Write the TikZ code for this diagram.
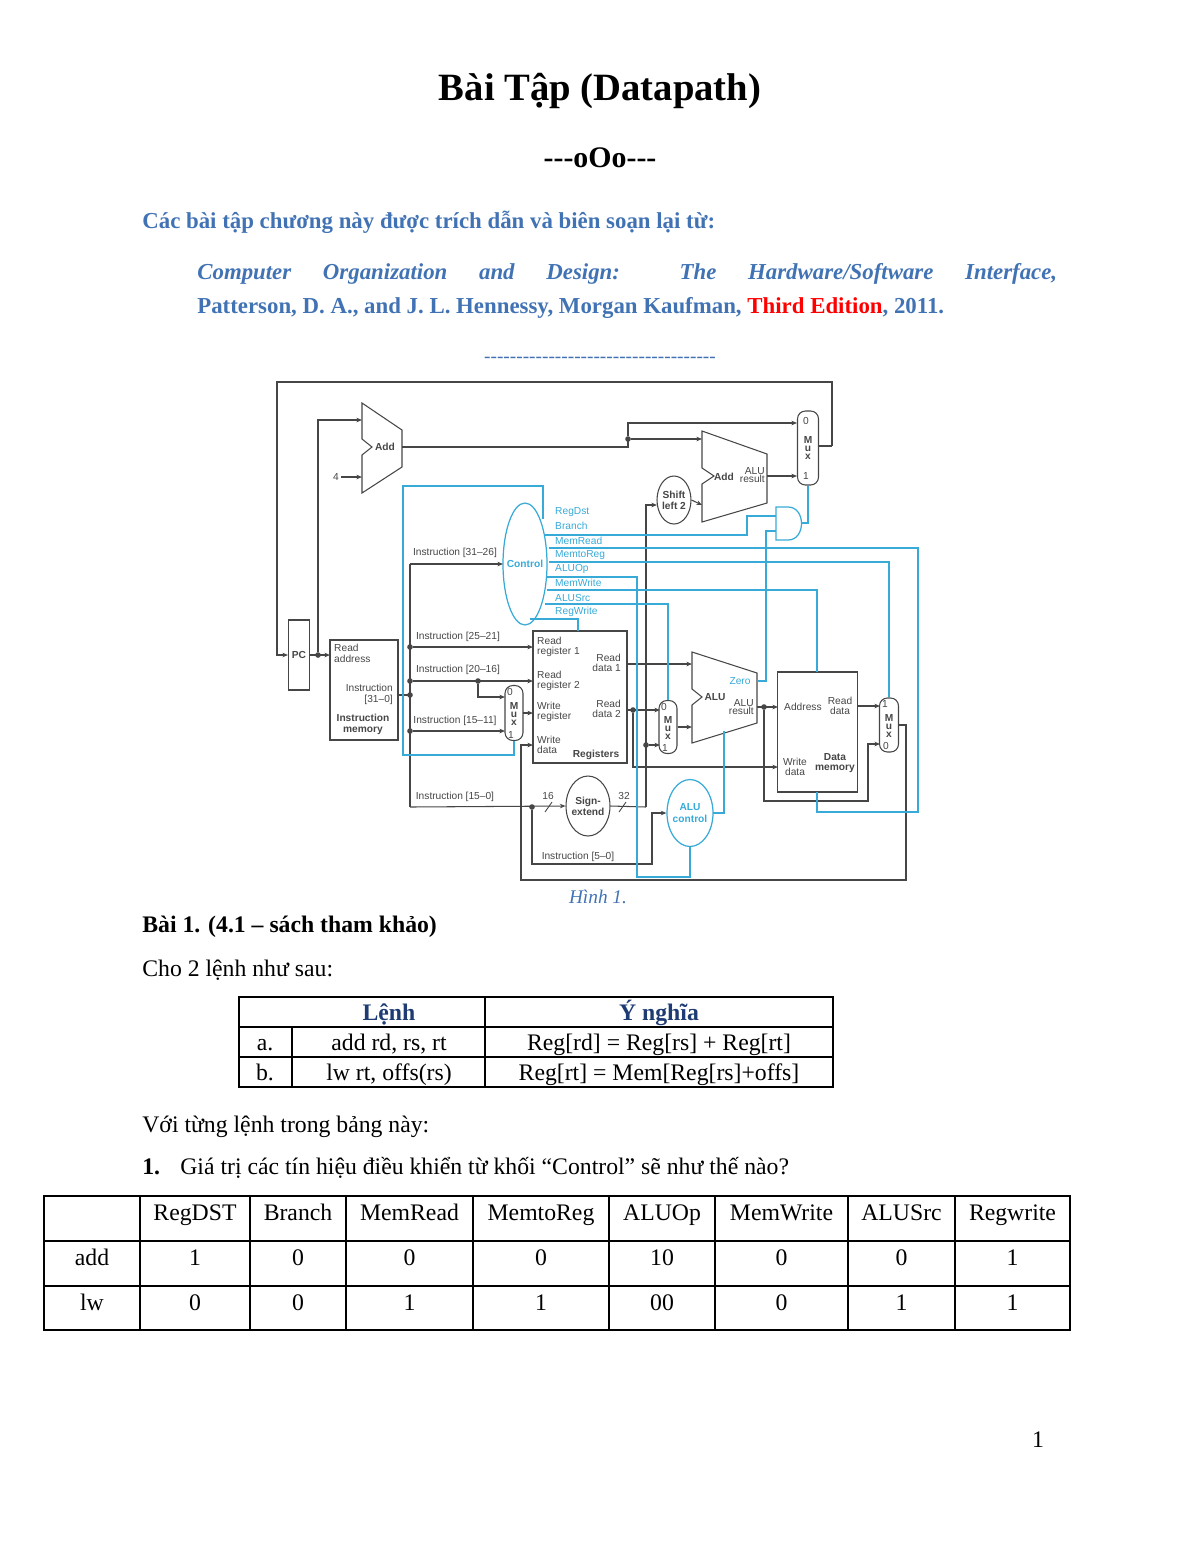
\documentclass[tikz,border=0pt]{standalone}
\usepackage{fontspec}
\setmainfont{Liberation Serif}
\newfontfamily\dsans{Liberation Sans}
\usetikzlibrary{arrows.meta,shapes.geometric}
\definecolor{ctl}{RGB}{55,170,215}
\definecolor{hblue}{RGB}{65,115,180}
\definecolor{tblue}{RGB}{30,60,115}
\definecolor{wire}{RGB}{70,70,70}
\begin{document}
\begin{tikzpicture}[x=0.02cm,y=-0.02cm,
  w/.style={draw=wire,line width=0.6pt},
  cw/.style={draw=ctl,line width=0.7pt},
  ckw/.style={draw=ctl,line width=1.3pt},
  ar/.style={-{Stealth[length=3.2pt,width=2.6pt]}},
  dot/.style={circle,fill=wire,inner sep=0pt,minimum size=3.2pt},
  lb/.style={font=\dsans\fontsize{5.8}{6.4}\selectfont,text=wire,inner sep=0.5pt,align=left},
  lbb/.style={lb,font=\dsans\bfseries\fontsize{5.8}{6.4}\selectfont},
  cl/.style={lb,text=ctl},
  mux/.style={draw=wire,line width=0.6pt,rounded corners=4.5pt,inner sep=0pt},
  body/.style={font=\fontsize{13.5}{16}\selectfont,inner sep=0pt,anchor=base west},
  tc/.style={font=\fontsize{13.5}{16}\selectfont,inner sep=0pt,anchor=base},
  tl/.style={draw=black,line width=0.8pt}]
\useasboundingbox (0,0) rectangle (1200,1553);
% ---------- header ----------
\node[font=\bfseries\fontsize{22}{26}\selectfont,anchor=base,inner sep=0pt] (title) at (600,100) {Bài Tập (Datapath)};
\node[font=\bfseries\fontsize{17}{20}\selectfont,anchor=base,inner sep=0pt] (ooo) at (600,167) {{-}{-}{-}oOo{-}{-}{-}};
\node[body,font=\bfseries\fontsize{13}{15}\selectfont,text=hblue] (src) at (142,228) {Các bài tập chương này được trích dẫn và biên soạn lại từ:};
\node[anchor=north west,inner sep=0pt,text=hblue] (book) at (197,263) {\parbox{17.2cm}{\fontsize{13}{19.3}\selectfont\bfseries\itshape Computer Organization and Design: The Hardware/Software Interface,\linebreak \upshape Patterson, D. A., and J. L. Hennessy, Morgan Kaufman, \textcolor{red}{Third Edition}, 2011.}};
\node[tc,font=\fontsize{11}{13}\selectfont,text=hblue] (sep) at (600,362) {{-}{-}{-}{-}{-}{-}{-}{-}{-}{-}{-}{-}{-}{-}{-}{-}{-}{-}{-}{-}{-}{-}{-}{-}{-}{-}{-}{-}{-}{-}{-}{-}{-}{-}{-}{-}};
% ---------- datapath ----------
\node[draw=wire,line width=0.6pt,minimum width=0.42cm,minimum height=1.4cm,inner sep=0pt] (pc) at (299,655) {};
\node[lbb] (pct) at (299,655) {PC};
\node[draw=wire,line width=0.6pt,minimum width=1.36cm,minimum height=2cm,inner sep=0pt] (im) at (364,690) {};
\node[lb,anchor=north west] (imra) at (333,643) {Read\\address};
\node[lb,anchor=east,align=right] (imi) at (394,694) {Instruction\\{[31–0]}};
\node[lbb,align=center] (imn) at (363,724) {Instruction\\memory};
\draw[w] (362,403) -- (402,430) -- (402,467) -- (362,493) -- (362,455) -- (372,447) -- (362,439) -- cycle;
\node[lbb] (addl) at (385,447) {Add};
\node[lb] (four) at (336,477) {4};
\draw[w,ar] (341,477) -- (362,477);
\draw[w] (702,431) -- (767,454) -- (767,503) -- (702,522) -- (702,484) -- (714,476) -- (702,468) -- cycle;
\node[lbb] (add2) at (724,477) {Add};
\node[lb,align=right,anchor=east] (alur2) at (766,475) {ALU\\[-1.5pt]result};
\node[mux,minimum width=0.42cm,minimum height=1.48cm] (mtop) at (808,448) {};
\node[lbb,align=center] (mtopt) at (808,448) {M\\[-2pt]u\\[-2pt]x};
\node[lb] at (806,421) {0};
\node[lb] at (806,476) {1};
\node[draw=wire,line width=0.6pt,ellipse,minimum width=0.68cm,minimum height=0.96cm,inner sep=0pt] (sl) at (674,500) {};
\node[lbb,align=center] at (674,500) {Shift\\left 2};
\draw[cw] (776,507) -- (788,507) .. controls (806,507) and (806,540) .. (788,540) -- (776,540) -- cycle;
\node[draw=ctl,line width=0.7pt,ellipse,minimum width=0.88cm,minimum height=2.44cm,inner sep=0pt] (ctrl) at (525,564) {};
\node[lbb,text=ctl] at (525,564) {Control};
\foreach \t/\y in {RegDst/512,Branch/526,MemRead/541,MemtoReg/555,ALUOp/569,MemWrite/583,ALUSrc/598,RegWrite/612}
  \node[cl,anchor=west] at (554,\y) {\t};
\node[draw=wire,line width=0.6pt,minimum width=1.88cm,minimum height=2.64cm,inner sep=0pt] (regs) at (580,697) {};
\node[lb,anchor=west] at (536,647) {Read\\[-1pt]register 1};
\node[lb,anchor=west] at (536,681) {Read\\[-1pt]register 2};
\node[lb,anchor=west] at (536,712) {Write\\[-1pt]register};
\node[lb,anchor=west] at (536,745) {Write\\[-1pt]data};
\node[lb,anchor=east,align=right] at (622,663) {Read\\[-1pt]data 1};
\node[lb,anchor=east,align=right] at (622,709) {Read\\[-1pt]data 2};
\node[lbb] at (596,755) {Registers};
\node[mux,minimum width=0.36cm,minimum height=1.1cm] (mrd) at (514,713) {};
\node[lbb,align=center] at (514,714) {M\\[-2pt]u\\[-2pt]x};
\node[lb] at (510,692) {0};
\node[lb] at (511,735) {1};
\node[draw=wire,line width=0.6pt,ellipse,minimum width=0.88cm,minimum height=1.2cm,inner sep=0pt] (se) at (588,806) {};
\node[lbb,align=center] at (588,806) {Sign-\\extend};
\node[mux,minimum width=0.36cm,minimum height=1.06cm] (mas) at (668,727) {};
\node[lbb,align=center] at (668,728) {M\\[-2pt]u\\[-2pt]x};
\node[lb] at (664,707) {0};
\node[lb] at (665,748) {1};
\draw[w] (692,652) -- (757,673) -- (757,723) -- (692,743) -- (692,705) -- (702,697) -- (692,689) -- cycle;
\node[lbb] at (715,697) {ALU};
\node[lb,align=right,anchor=east] at (755,707) {ALU\\[-1.5pt]result};
\node[cl] at (740,681) {Zero};
\node[draw=ctl,line width=0.7pt,ellipse,minimum width=0.92cm,minimum height=1.34cm,inner sep=0pt] (aluc) at (690,813) {};
\node[lbb,text=ctl,align=center] at (690,813) {ALU\\control};
\node[draw=wire,line width=0.6pt,minimum width=1.6cm,minimum height=2.4cm,inner sep=0pt] (dm) at (817.5,732) {};
\node[lb,anchor=west] at (783,707) {Address};
\node[lb,align=center] at (840,706) {Read\\[-1pt]data};
\node[lb,align=center] at (795,767) {Write\\[-1pt]data};
\node[lbb,align=center] at (835,763) {Data\\[-1pt]memory};
\node[mux,minimum width=0.38cm,minimum height=1.08cm] (mdm) at (889,725) {};
\node[lbb,align=center] at (889,726) {M\\[-2pt]u\\[-2pt]x};
\node[lb] at (885,704) {1};
\node[lb] at (886,746) {0};
\node[lb] at (455,553) {Instruction [31–26]};
\node[lb] at (458,637) {Instruction [25–21]};
\node[lb] at (458,670) {Instruction [20–16]};
\node[lb] at (455,721) {Instruction [15–11]};
\node[lb] at (455,797) {Instruction [15–0]};
\node[lb] at (578,857) {Instruction [5–0]};
\node[lb] at (548,796) {16};
\node[lb] at (624,796) {32};
% ---- black wires ----
\draw[w,ar] (832,446) -- (832,382) -- (277,382) -- (277,655) -- (pc.west);
\draw[w,ar] (pc.east) -- (330,655);
\node[dot] (d1) at (318,655) {};
\draw[w,ar] (d1) -- (318,420) -- (362,420);
\draw[w] (402,447) -- (628,447) -- (628,439);
\node[dot] (d2) at (628,439) {};
\draw[w,ar] (d2) -- (628,423) -- (797,423);
\draw[w,ar] (d2) -- (702,439);
\draw[w,ar] (767,476) -- (797,476);
\draw[w] (819,446) -- (832,446);
\draw[w,ar] (sl.east) -- (702,505);
\draw[w] (398,695) -- (410,695);
\node[dot] (d3) at (410,695) {};
\draw[w,ar] (410,564) -- (503,564);
\draw[w] (410,564) -- (410,807);
\node[dot] (d4) at (410,647) {};
\node[dot] (d5) at (410,681) {};
\node[dot] (d6) at (410,731) {};
\draw[w,ar] (d4) -- (533,647);
\draw[w,ar] (d5) -- (533,681);
\node[dot] (d7) at (478,681) {};
\draw[w,ar] (d7) -- (478,697) -- (505,697);
\draw[w,ar] (d6) -- (505,731);
\draw[w,ar] (523,713) -- (533,713);
\draw[w,ar] (410,807) -- (se.west);
\draw[wire,line width=0.5pt] (545,812) -- (552,802);
\node[dot] (d8) at (532,807) {};
\draw[w,ar] (d8) -- (532,864) -- (652,864) -- (652,813) -- (aluc.west);
\draw[w] (se.east) -- (646,807);
\draw[wire,line width=0.5pt] (619,812) -- (626,802);
\draw[w,ar] (646,807) -- (646,505) -- (657,505);
\node[dot] (d9) at (646,745) {};
\draw[w,ar] (d9) -- (660,745);
\draw[w,ar] (626,664) -- (692,664);
\draw[w,ar] (626,710) -- (660,710);
\node[dot] (d10) at (633,710) {};
\draw[w,ar] (d10) -- (633,767) -- (778,767);
\draw[w,ar] (mas.east) -- (692,727);
\draw[w,ar] (757,707) -- (778,707);
\node[dot] (d11) at (764,707) {};
\draw[w,ar] (d11) -- (764,801) -- (868,801) -- (868,744) -- (880,744);
\draw[w,ar] (857,706) -- (880,706);
\draw[w,ar] (899,725) -- (906,725) -- (906,880) -- (521,880) -- (521,745) -- (533,745);
% ---- control wires ----
\draw[cw] (543,519) -- (543,486) -- (403,486) -- (403,755) -- (514,755) -- (mrd.south);
\draw[cw] (545,535) -- (747,535) -- (747,516) -- (776,516);
\draw[cw] (549,548) -- (918,548) -- (918,812) -- (817,812) -- (817,792);
\draw[cw] (549,562) -- (889,562) -- (mdm.north);
\draw[ckw] (547,577) -- (637,577) -- (637,877) -- (690,877) -- (aluc.south);
\draw[cw] (547,590) -- (817,590) -- (817,672);
\draw[cw] (545,604) -- (668,604) -- (mas.north);
\draw[cw] (530,619) -- (578,619) -- (578,631);
\draw[ckw] (713,813) -- (724,813) -- (724,731);
\draw[cw] (757,681) -- (766,681) -- (766,531) -- (776,531);
\draw[cw] (801,523) -- (808,523) -- (mtop.south);
\node[font=\itshape\fontsize{11}{13}\selectfont,text=hblue,anchor=base,inner sep=0pt] (cap) at (598,903) {Hình 1.};
% ---------- Bài 1 ----------
\node[body,font=\bfseries\fontsize{13.5}{16}\selectfont] (b1) at (142,932) {Bài 1. (4.1 – sách tham khảo)};
\node[body] (cho) at (142,976) {Cho 2 lệnh như sau:};
\draw[tl] (239,997) rectangle (833,1087);
\draw[tl] (239,1027) -- (833,1027) (239,1057) -- (833,1057);
\draw[tl] (292,1027) -- (292,1087) (485,997) -- (485,1087);
\node[tc,font=\bfseries\fontsize{13.5}{16}\selectfont,text=tblue] at (389,1020) {Lệnh};
\node[tc,font=\bfseries\fontsize{13.5}{16}\selectfont,text=tblue] at (659,1020) {Ý nghĩa};
\node[tc] at (265,1050) {a.};
\node[tc] at (389,1050) {add rd, rs, rt};
\node[tc] at (659,1050) {Reg[rd] = Reg[rs] + Reg[rt]};
\node[tc] at (265,1080) {b.};
\node[tc] at (389,1080) {lw rt, offs(rs)};
\node[tc] at (659,1080) {Reg[rt] = Mem[Reg[rs]+offs]};
\node[body] (voi) at (142,1132) {Với từng lệnh trong bảng này:};
\node[body,font=\bfseries\fontsize{13.5}{16}\selectfont] (n1) at (142,1174) {1.};
\node[body] (q1) at (180,1174) {Giá trị các tín hiệu điều khiển từ khối “Control” sẽ như thế nào?};
\draw[tl] (44,1196) rectangle (1070,1330);
\draw[tl] (44,1241) -- (1070,1241) (44,1286) -- (1070,1286);
\foreach \x in {140,250,346,473,609,715,848,955} \draw[tl] (\x,1196) -- (\x,1330);
\foreach \t/\x in {RegDST/195,Branch/298,MemRead/409.5,MemtoReg/541,ALUOp/662,MemWrite/781.5,ALUSrc/901.5,Regwrite/1012.5}
  \node[tc] at (\x,1220) {\t};
\node[tc] at (92,1265) {add};
\node[tc] at (92,1310) {lw};
\foreach \a/\b/\x in {1/0/195,0/0/298,0/1/409.5,0/1/541,10/00/662,0/0/781.5,0/1/901.5,1/1/1012.5}{
  \node[tc] at (\x,1265) {\a};
  \node[tc] at (\x,1310) {\b};}
\node[tc] (pg) at (1038,1447) {1};
\end{tikzpicture}
\end{document}
